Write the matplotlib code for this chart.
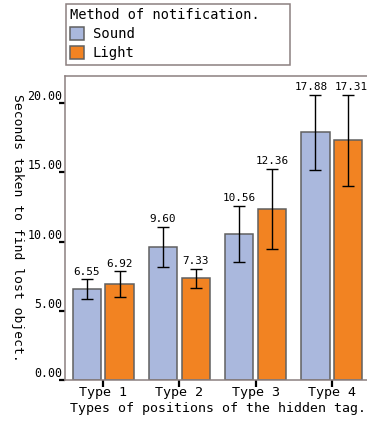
import matplotlib
matplotlib.use("Agg")
import matplotlib.pyplot as plt
import numpy as np

categories = ["Type 1", "Type 2", "Type 3", "Type 4"]
sound = [6.55, 9.60, 10.56, 17.88]
light = [6.92, 7.33, 12.36, 17.31]
sound_err = [0.72, 1.47, 2.03, 2.70]
light_err = [0.92, 0.72, 2.90, 3.30]
yticks = [0, 5, 10, 15, 20]

SOUND_COLOR = "#aab8dd"
LIGHT_COLOR = "#f28322"
EDGE = "#606060"
FRAME = "#8c8080"

plt.rcParams["font.family"] = ["DejaVu Sans Mono"]

fig = plt.figure(figsize=(3.67, 4.22), dpi=100)
ax = fig.add_axes([65 / 367, 42 / 422, 305 / 367, 304 / 422])

x = np.arange(len(categories))
w = 0.37
off = 0.215
ax.bar(x - off, sound, w, color=SOUND_COLOR, edgecolor=EDGE, linewidth=1.1, label="Sound")
ax.bar(x + off, light, w, color=LIGHT_COLOR, edgecolor=EDGE, linewidth=1.1, label="Light")
ax.errorbar(x - off, sound, yerr=sound_err, fmt="none", ecolor="black", elinewidth=1.0, capsize=4.5, capthick=1.0)
ax.errorbar(x + off, light, yerr=light_err, fmt="none", ecolor="black", elinewidth=1.0, capsize=4.5, capthick=1.0)

# value labels above the error bars; the last pair is nudged apart like the original
for xs, vals, errs, nudge in [(x - off, sound, sound_err, -3), (x + off, light, light_err, 2)]:
    for i, (xi, v, e) in enumerate(zip(xs, vals, errs)):
        dx = nudge if i == len(vals) - 1 else 0
        ax.annotate(f"{v:.2f}", (xi, v + e), xytext=(dx, 2), textcoords="offset points",
                    ha="center", va="bottom", fontsize=7.9)

ax.set_xlim(-0.5, 3.5)
ax.set_ylim(0, 21.95)
ax.set_xticks(x)
ax.set_xticklabels(categories, fontsize=9.6)
ax.set_yticks(yticks)
ax.set_yticklabels([f"{t:.2f}" for t in yticks], fontsize=8.4)
for lab in ax.get_yticklabels():
    lab.set_va("bottom")
ax.tick_params(axis="y", length=4, width=1.6, color="black", pad=-2)
ax.tick_params(axis="x", length=5, width=1.6, color="black", pad=-1)

for s in ax.spines.values():
    s.set_color(FRAME)
    s.set_linewidth(1.1)

ax.set_xlabel("Types of positions of the hidden tag.", fontsize=9.5, labelpad=2.5)
fig.text(17 / 367, 1 - 228 / 422, "Seconds taken to find lost object.", rotation=270,
         ha="center", va="center", fontsize=9.4)

leg = ax.legend(title="Method of notification.", loc="upper left",
                bbox_to_anchor=(66 / 367, 1 - 66 / 422, 224 / 367, 62 / 422),
                bbox_transform=fig.transFigure, mode="expand", borderaxespad=0,
                fontsize=10, title_fontsize=9.8, alignment="left", fancybox=False,
                handlelength=1.0, handleheight=1.0, handletextpad=0.6,
                labelspacing=0.36, borderpad=0.32, framealpha=1)
leg.get_frame().set_edgecolor(FRAME)
leg.get_frame().set_linewidth(1.1)

fig.savefig("out.png", dpi=100)
